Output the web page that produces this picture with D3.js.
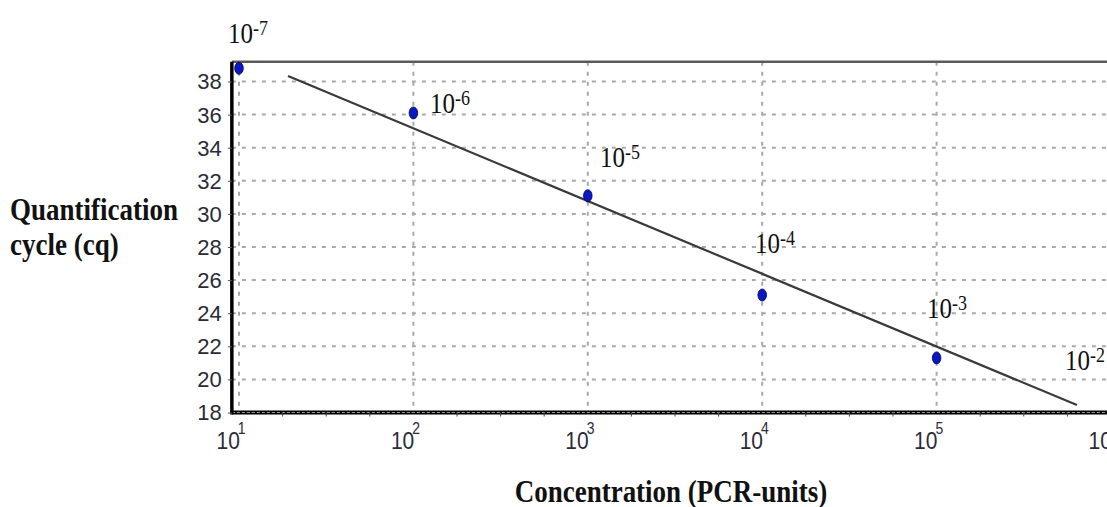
<!DOCTYPE html>
<html>
<head>
<meta charset="utf-8">
<script src="https://cdn.jsdelivr.net/npm/d3@7"></script>
<style>
  body { margin: 0; background: #fff; }
  .grid line { stroke: #a9a9a9; stroke-width: 2; stroke-dasharray: 4,6; }
  .tick-label { font-family: Arial, "Liberation Sans", sans-serif; fill: #2b2b38; }
  .serif { font-family: "Times New Roman", "Liberation Serif", serif; fill: #111; }
</style>
</head>
<body>
<svg id="chart" width="1107" height="507"></svg>
<script>
// standard curve: concentration vs quantification cycle
const concentration = [1e1, 1e2, 1e3, 1e4, 1e5];
const cqValues = [38.8, 36.1, 31.1, 25.1, 21.3];

// fitted regression line (two ends)
const fitConc = [19.1, 6.38e5];
const fitCq = [38.33, 18.45];

// dilution annotations (exponent text + where they sit, in data units)
const dilutionExp = ['-7', '-6', '-5', '-4', '-3', '-2'];
const labelConc = [8.65, 124.5, 1175, 9100, 88100, 544500];
const labelCq = [40.33, 36.10, 32.83, 27.63, 23.71, 20.56];

// axes
const yTicks = [18, 20, 22, 24, 26, 28, 30, 32, 34, 36, 38];
const xTicks = [1e1, 1e2, 1e3, 1e4, 1e5, 1e6];
const xTickExp = ['1', '2', '3', '4', '5', '6'];
const xExtent = [9.1, 1.3e6];
const yExtent = [18, 39.2];

const svg = d3.select('#chart');

const x = d3.scaleLog().domain([1e1, 1e6]).range([239, 1111]);
const y = d3.scaleLinear().domain([18, 38]).range([412.5, 81.5]);

const plotLeft = x(xExtent[0]), plotRight = x(xExtent[1]);
const plotTop = y(yExtent[1]), plotBottom = y(yExtent[0]);

// grid
const grid = svg.append('g').attr('class', 'grid');
grid.selectAll('.gx').data(xTicks).join('line')
    .attr('x1', d => x(d)).attr('x2', d => x(d))
    .attr('y1', plotTop).attr('y2', plotBottom);
grid.selectAll('.gy').data(yTicks.filter(d => d > 18)).join('line')
    .attr('x1', plotLeft).attr('x2', plotRight)
    .attr('y1', d => y(d)).attr('y2', d => y(d));

// frame
svg.append('line')
    .attr('x1', plotLeft).attr('x2', plotRight).attr('y1', plotTop).attr('y2', plotTop)
    .attr('stroke', '#5a5a5a').attr('stroke-width', 2.5);
svg.append('line')
    .attr('x1', plotLeft).attr('x2', plotRight).attr('y1', plotBottom).attr('y2', plotBottom)
    .attr('stroke', '#000').attr('stroke-width', 4);
svg.append('line')
    .attr('x1', plotLeft).attr('x2', plotRight).attr('y1', plotBottom).attr('y2', plotBottom)
    .attr('stroke', '#9a9a9a').attr('stroke-width', 1.2).attr('stroke-dasharray', '3,2');
svg.append('line')
    .attr('x1', plotLeft).attr('x2', plotLeft).attr('y1', plotTop).attr('y2', plotBottom + 2)
    .attr('stroke', '#000').attr('stroke-width', 3.5);

// y axis
const yAxis = d3.axisLeft(y).tickValues(yTicks).tickSize(4).tickPadding(6);
const yAxisG = svg.append('g')
    .attr('transform', `translate(${plotLeft},0)`)
    .call(yAxis);
yAxisG.select('.domain').remove();
yAxisG.selectAll('.tick line').attr('stroke', '#555');
yAxisG.selectAll('.tick text')
    .attr('class', 'tick-label')
    .attr('font-size', 22)
    .attr('dy', '0.34em')
    .attr('fill', null);

// x axis (log decades with superscript exponents)
const xAxis = d3.axisBottom(x).tickValues(xTicks).tickSize(0).tickFormat('');
const xAxisG = svg.append('g')
    .attr('transform', `translate(0,${plotBottom})`)
    .call(xAxis);
xAxisG.select('.domain').remove();
xAxisG.selectAll('.tick').each(function(d, i) {
  const t = d3.select(this).append('text')
      .attr('class', 'tick-label')
      .attr('transform', 'translate(-23,36) scale(1,1.15)')
      .attr('font-size', 21)
      .attr('text-anchor', 'start');
  t.append('tspan').text('10');
  t.append('tspan').attr('dx', -2).attr('dy', -13).attr('font-size', 14).text(xTickExp[i]);
});

// minor ticks at quarter decades
const minor = [];
xTicks.slice(0, -1).forEach(d => [1, 2, 3].forEach(k => minor.push(d * Math.pow(10, k / 4))));
svg.append('g').selectAll('line').data(minor).join('line')
    .attr('x1', d => x(d)).attr('x2', d => x(d))
    .attr('y1', plotBottom).attr('y2', plotBottom + 4)
    .attr('stroke', '#444').attr('stroke-width', 1);

// regression line
svg.append('path')
    .datum(d3.zip(fitConc, fitCq))
    .attr('d', d3.line().x(d => x(d[0])).y(d => y(d[1])))
    .attr('fill', 'none')
    .attr('stroke', '#3a3a3a')
    .attr('stroke-width', 2.2);

// points
svg.append('g').selectAll('ellipse')
    .data(d3.zip(concentration, cqValues))
    .join('ellipse')
    .attr('cx', d => x(d[0]))
    .attr('cy', d => y(d[1]))
    .attr('rx', 4.3).attr('ry', 6)
    .attr('fill', '#0a18c0')
    .attr('stroke', '#000060')
    .attr('stroke-width', 0.8);

// dilution labels
svg.append('g').selectAll('text')
    .data(dilutionExp)
    .join('text')
    .attr('class', 'serif')
    .attr('transform', (d, i) => `translate(${x(labelConc[i])},${y(labelCq[i])}) scale(1,1.15)`)
    .attr('font-size', 25)
    .each(function(d) {
      const t = d3.select(this);
      t.append('tspan').text('10');
      t.append('tspan').attr('dy', -7).attr('font-size', 18).text(d);
    });

// axis titles
const titles = [
  {text: 'Quantification', x: 10, y: 220, anchor: 'start'},
  {text: 'cycle (cq)', x: 10, y: 255, anchor: 'start'},
  {text: 'Concentration (PCR-units)', x: 671, y: 502, anchor: 'middle'}
];
svg.append('g').selectAll('text')
    .data(titles)
    .join('text')
    .attr('class', 'serif')
    .attr('transform', d => `translate(${d.x},${d.y}) scale(1,1.18)`)
    .attr('text-anchor', d => d.anchor)
    .attr('font-size', 27)
    .attr('font-weight', 'bold')
    .text(d => d.text);
</script>
</body>
</html>
